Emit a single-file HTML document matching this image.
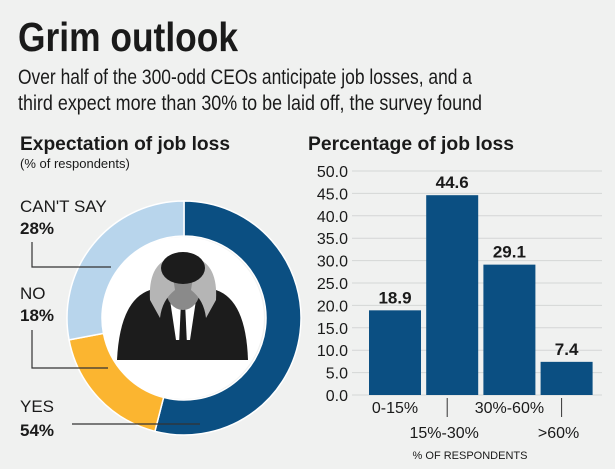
<!DOCTYPE html>
<html><head><meta charset="utf-8"><style>
html,body{margin:0;padding:0;background:#f0f1f0;}
svg{display:block;font-family:"Liberation Sans",sans-serif;}
</style></head><body>
<svg id="c" width="615" height="469" viewBox="0 0 615 469">
<rect width="615" height="469" fill="#f0f1f0"/>
<text x="18" y="51" font-size="41" font-weight="bold" fill="#1a1a1a" textLength="220" lengthAdjust="spacingAndGlyphs">Grim outlook</text>
<text x="18" y="84" font-size="21" fill="#1a1a1a" textLength="454" lengthAdjust="spacingAndGlyphs">Over half of the 300-odd CEOs anticipate job losses, and a</text>
<text x="18" y="110" font-size="21" fill="#1a1a1a" textLength="464" lengthAdjust="spacingAndGlyphs">third expect more than 30% to be laid off, the survey found</text>
<text x="20" y="150" font-size="19" font-weight="bold" fill="#1a1a1a" textLength="210" lengthAdjust="spacingAndGlyphs">Expectation of job loss</text>
<text x="20" y="168" font-size="13" fill="#1a1a1a">(% of respondents)</text>
<text x="308" y="150" font-size="19" font-weight="bold" fill="#1a1a1a" textLength="206" lengthAdjust="spacingAndGlyphs">Percentage of job loss</text>
<g id="donut"></g>
<g id="person">
<circle cx="183" cy="318" r="81" fill="#ffffff"/>
<path d="M117,360 Q120,300 150,290 L216,290 Q246,300 248,360 Z" fill="#1c1c1c"/>
<path d="M170,300 L196,300 L190,340 L176,340 Z" fill="#ffffff"/>
<path d="M181,302 L185,302 L187,345 L183,352 L179,345 Z" fill="#1c1c1c"/>
<ellipse cx="183" cy="290" rx="17" ry="20" fill="#8a8a8a"/>
<path d="M150,300 Q148,265 170,258 L175,290 Q162,300 160,318 Z" fill="#b5b5b5"/>
<path d="M216,300 Q218,265 196,258 L191,290 Q204,300 206,318 Z" fill="#b5b5b5"/>
<ellipse cx="183" cy="268" rx="22" ry="16" fill="#1c1c1c"/>
</g>
<g id="donut-labels">
<text x="20" y="212" font-size="17" fill="#1a1a1a">CAN'T SAY</text>
<text x="20" y="234" font-size="17" font-weight="bold" fill="#1a1a1a">28%</text>
<polyline points="32,242 32,267 111,267" fill="none" stroke="#333" stroke-width="1.2"/>
<text x="20" y="299" font-size="17" fill="#1a1a1a">NO</text>
<text x="20" y="321" font-size="17" font-weight="bold" fill="#1a1a1a">18%</text>
<polyline points="32,330 32,368 108,368" fill="none" stroke="#333" stroke-width="1.2"/>
<text x="20" y="412" font-size="17" fill="#1a1a1a">YES</text>
<text x="20" y="436" font-size="17" font-weight="bold" fill="#1a1a1a">54%</text>
<line x1="72" y1="424" x2="200" y2="424" stroke="#333" stroke-width="1.2"/>
</g>
<g id="bars"></g>
</svg>
<script>
const donutLabels = ["YES", "NO", "CAN'T SAY"];
const donutValues = [54, 18, 28];
const donutColors = ["#0b4f82", "#fbb530", "#b8d5ec"];
const barCategories = ["0-15%", "15%-30%", "30%-60%", ">60%"];
const barValues = [18.9, 44.6, 29.1, 7.4];
const yTicks = [0, 5, 10, 15, 20, 25, 30, 35, 40, 45, 50];

const NS = "http://www.w3.org/2000/svg";
function mk(tag, attrs, parent) {
  const e = document.createElementNS(NS, tag);
  for (const k in attrs) e.setAttribute(k, attrs[k]);
  parent.appendChild(e);
  return e;
}
// donut
const dg = document.getElementById('donut');
const cx = 184, cy = 318, R = 117, r = 82;
const total = donutValues.reduce((a, b) => a + b, 0);
let acc = 0;
function pt(rad, f) { const a = f * 2 * Math.PI; return [cx + rad * Math.sin(a), cy - rad * Math.cos(a)]; }
donutValues.forEach((v, i) => {
  const f0 = acc / total, f1 = (acc + v) / total; acc += v;
  const large = (f1 - f0) > 0.5 ? 1 : 0;
  const [x0, y0] = pt(R, f0), [x1, y1] = pt(R, f1), [x2, y2] = pt(r, f1), [x3, y3] = pt(r, f0);
  const p = mk('path', { d: `M${x0},${y0} A${R},${R} 0 ${large} 1 ${x1},${y1} L${x2},${y2} A${r},${r} 0 ${large} 0 ${x3},${y3} Z`, fill: donutColors[i], stroke: '#ffffff', 'stroke-width': 1.5 }, dg);
  
  
});
// bars
const bg = document.getElementById('bars');
const y0 = 395, pxPer = 224 / 50, plotL = 352, plotR = 602;
const yS = v => y0 - v * pxPer;
yTicks.forEach(t => {
  const l = mk('line', { x1: plotL, x2: plotR, y1: yS(t), y2: yS(t), stroke: '#d4d6d6', 'stroke-width': 1 }, bg);
  
  
  const tx = mk('text', { x: 348, y: yS(t) + 6, 'font-size': 16, 'text-anchor': 'end', fill: '#1a1a1a' }, bg);
  tx.textContent = t.toFixed(1);
  
  
});
const bandL = 366, step = 57.2, bw = 52;
barCategories.forEach((c, i) => {
  const x = bandL + 3 + i * step;
  const b = mk('rect', { x: x, y: yS(barValues[i]), width: bw, height: barValues[i] * pxPer, fill: '#0b4f82' }, bg);
  
  
  const v = mk('text', { x: x + bw / 2, y: yS(barValues[i]) - 7, 'font-size': 17, 'font-weight': 'bold', 'text-anchor': 'middle', fill: '#1a1a1a' }, bg);
  v.textContent = barValues[i].toFixed(1);
  
  
  const lab = mk('text', { x: x + bw / 2 + (i % 2 ? -8 : 0), y: i % 2 ? 438 : 413, 'font-size': 16, 'text-anchor': 'middle', fill: '#1a1a1a' }, bg);
  lab.textContent = c;
  
  
  if (i % 2) {
    const tk = mk('line', { x1: x + bw / 2 - 5, x2: x + bw / 2 - 5, y1: 398, y2: 417, stroke: '#333', 'stroke-width': 1 }, bg);
    
    
  }
});
const xt = mk('text', { x: 470, y: 459, 'font-size': 11, 'text-anchor': 'middle', fill: '#1a1a1a' }, bg);
xt.textContent = '% OF RESPONDENTS';


</script>
</body></html>
